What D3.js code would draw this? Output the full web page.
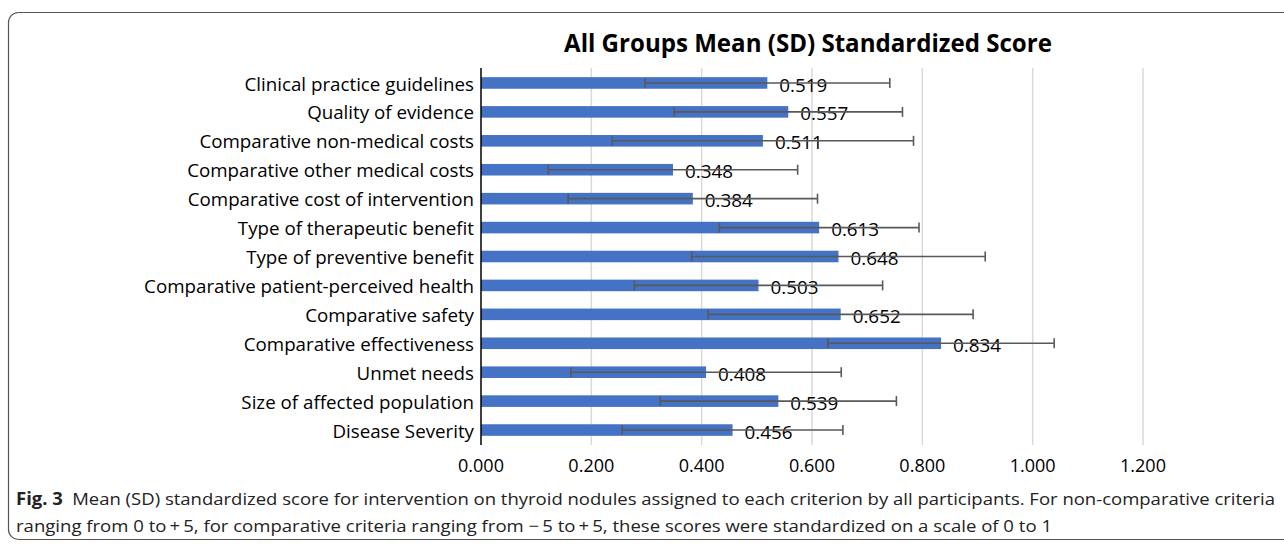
<!DOCTYPE html>
<html>
<head>
<meta charset="utf-8">
<script src="https://cdn.jsdelivr.net/npm/d3@7"></script>
<style>
  body { margin: 0; background: #fff; }
  svg { display: block; }
</style>
</head>
<body>
<div id="chart"></div>
<script>
// criteria, top to bottom as drawn
const categories = [
    "Clinical practice guidelines",
    "Quality of evidence",
    "Comparative non-medical costs",
    "Comparative other medical costs",
    "Comparative cost of intervention",
    "Type of therapeutic benefit",
    "Type of preventive benefit",
    "Comparative patient-perceived health",
    "Comparative safety",
    "Comparative effectiveness",
    "Unmet needs",
    "Size of affected population",
    "Disease Severity"
]
const means = [0.519, 0.557, 0.511, 0.348, 0.384, 0.613, 0.648, 0.503, 0.652, 0.834, 0.408, 0.539, 0.456]
// SD
const sds = [0.222, 0.207, 0.273, 0.226, 0.226, 0.181, 0.266, 0.225, 0.240, 0.205, 0.245, 0.214, 0.200]
const xTicks = [0, 0.2, 0.4, 0.6, 0.8, 1.0, 1.2]

const chartTitle = "All Groups Mean (SD) Standardized Score"
const captionBold = "Fig. 3"
const captionLine1 = "Mean (SD) standardized score for intervention on thyroid nodules assigned to each criterion by all participants. For non-comparative criteria"
const captionLine2 = "ranging from 0 to\u2009+\u20095, for comparative criteria ranging from \u2212\u20095 to\u2009+\u20095, these scores were standardized on a scale of 0 to 1"

const W = 1284, H = 545
const FONT = "'Open Sans', 'Noto Sans', sans-serif"
const barColor = "#4472c4", errColor = "#595959", gridColor = "#d9d9d9"

let svg = d3.select("#chart").append("svg")
    .attr("width", W).attr("height", H)
    .style("background-color", "#fff")

// figure frame (right edge runs off the page)
svg.append("rect")
    .attr("x", 8.5).attr("y", 12.5)
    .attr("width", 1320).attr("height", 527)
    .attr("rx", 10).attr("ry", 10)
    .attr("fill", "none").attr("stroke", "#555").attr("stroke-width", 1.2)

let x = d3.scaleLinear().domain([0, 1.2]).range([481, 1143])
let y = d3.scaleBand().domain(categories).range([68.5, 444.5]).paddingInner(0.6).paddingOuter(0.3)

// shrink/grow font so a text hits a target width
function fitFont(sel, target, base) {
    let w = sel.node().getComputedTextLength()
    let size = base * target / w
    sel.style("font-size", size + "px")
    return size
}

// gridlines
svg.append("g").selectAll("line")
    .data(xTicks.slice(1)).enter()
    .append("line")
    .attr("x1", d => x(d)).attr("x2", d => x(d))
    .attr("y1", 68).attr("y2", 445)
    .attr("stroke", gridColor).attr("stroke-width", 1.5)

// bars
svg.append("g").selectAll("rect")
    .data(means).enter()
    .append("rect")
    .attr("x", x(0))
    .attr("y", (d, i) => y(categories[i]))
    .attr("width", d => x(d) - x(0))
    .attr("height", y.bandwidth())
    .attr("fill", barColor)

// value labels
let valLabels = svg.append("g").selectAll("text")
    .data(means).enter()
    .append("text")
    .attr("x", d => x(d) + 12)
    .attr("y", (d, i) => y(categories[i]) + y.bandwidth() / 2 + 2)
    .attr("dy", "0.35em")
    .style("font-family", FONT).style("font-size", "20px").style("fill", "#000")
    .text(d => d.toFixed(3))
let valSize = fitFont(d3.select(valLabels.nodes()[0]), 48, 20)
valLabels.style("font-size", valSize + "px")

// error bars
let err = svg.append("g")
means.forEach(function (m, i) {
    let cy = y(categories[i]) + y.bandwidth() / 2
    let lo = x(m - sds[i]), hi = x(m + sds[i])
    err.append("line").attr("x1", lo).attr("x2", hi).attr("y1", cy).attr("y2", cy)
        .attr("stroke", errColor).attr("stroke-width", 1.6)
    for (let e of [lo, hi]) {
        err.append("line").attr("x1", e).attr("x2", e).attr("y1", cy - 5).attr("y2", cy + 5)
            .attr("stroke", errColor).attr("stroke-width", 1.6)
    }
})

// y axis line
svg.append("line")
    .attr("x1", x(0)).attr("x2", x(0)).attr("y1", 68).attr("y2", 445)
    .attr("stroke", "#000").attr("stroke-width", 1.5)

// category labels
let catLabels = svg.append("g").selectAll("text")
    .data(categories).enter()
    .append("text")
    .attr("x", 474)
    .attr("y", d => y(d) + y.bandwidth() / 2 + 1)
    .attr("dy", "0.35em")
    .attr("text-anchor", "end")
    .style("font-family", FONT).style("font-size", "18px").style("fill", "#000")
    .text(d => d)
let catSize = fitFont(d3.select(catLabels.nodes()[7]), 330, 18)
catLabels.style("font-size", catSize + "px")

// x tick labels
let tickLabels = svg.append("g").selectAll("text")
    .data(xTicks).enter()
    .append("text")
    .attr("x", d => x(d))
    .attr("y", 466)
    .attr("dy", "0.35em")
    .attr("text-anchor", "middle")
    .style("font-family", FONT).style("font-size", "18px").style("fill", "#000")
    .text(d3.format(".3f"))
let tickSize = fitFont(d3.select(tickLabels.nodes()[0]), 46, 18)
tickLabels.style("font-size", tickSize + "px")

// title
let title = svg.append("text")
    .attr("x", 808).attr("y", 52)
    .attr("text-anchor", "middle")
    .style("font-family", FONT).style("font-weight", "bold").style("font-size", "22px")
    .text(chartTitle)
fitFont(title, 488, 22)

// caption
let cap1 = svg.append("text")
    .attr("x", 16).attr("y", 505)
    .attr("textLength", 1259).attr("lengthAdjust", "spacingAndGlyphs")
    .style("font-family", FONT).style("font-size", "17px").style("fill", "#222")
cap1.append("tspan").style("font-weight", "bold").text(captionBold)
cap1.append("tspan").text("\u2002" + captionLine1)

svg.append("text")
    .attr("x", 16).attr("y", 532)
    .attr("textLength", 1036).attr("lengthAdjust", "spacingAndGlyphs")
    .style("font-family", FONT).style("font-size", "17px").style("fill", "#222")
    .text(captionLine2)
</script>
</body>
</html>
